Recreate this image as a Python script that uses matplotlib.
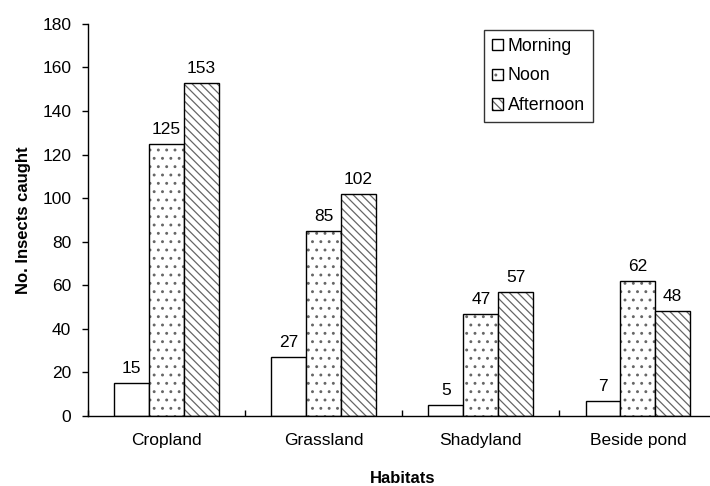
import matplotlib
matplotlib.use("Agg")
import matplotlib.pyplot as plt
import numpy as np

plt.rcParams['font.family'] = ['Liberation Sans', 'DejaVu Sans']
plt.rcParams['hatch.linewidth'] = 0.9

habitats = ['Cropland', 'Grassland', 'Shadyland', 'Beside pond']
morning = [15, 27, 5, 7]
noon = [125, 85, 47, 62]
afternoon = [153, 102, 57, 48]
series = [('Morning', morning, ''), ('Noon', noon, '..'), ('Afternoon', afternoon, '\\\\\\\\')]

fig = plt.figure(figsize=(7.1, 4.86), dpi=100)
ax = fig.add_axes([0.124, 0.144, 0.885, 0.807])

x = np.arange(len(habitats)) + 0.5
w = 0.222
for i, (name, vals, hatch) in enumerate(series):
    pos = x + (i - 1) * w
    bars = ax.bar(pos, vals, w, color='white', edgecolor='black', linewidth=1.0,
                  hatch=hatch, label=name)
    for b in bars:
        b._hatch_color = (0.4, 0.4, 0.4, 1.0)
    for px, v in zip(pos, vals):
        ax.annotate(str(v), (px, v), xytext=(0, 5), textcoords='offset points',
                    ha='center', va='bottom', fontsize=12.5)

ax.set_xlim(0, 4)
ax.set_ylim(0, 180)
ax.set_yticks(range(0, 181, 20))
ax.set_xticks([0, 1, 2, 3, 4], labels=[''] * 5)
ax.set_xticks(x, labels=habitats, minor=True)
ax.tick_params(axis='x', which='major', direction='in', length=4, width=1)
ax.tick_params(axis='x', which='minor', length=0, pad=12, labelsize=12.5)
ax.tick_params(axis='y', direction='out', length=4, width=1, labelsize=12.5, pad=8)

for s in ['top', 'right']:
    ax.spines[s].set_visible(False)
for s in ['left', 'bottom']:
    ax.spines[s].set_linewidth(1.0)

ax.set_xlabel('Habitats', fontsize=12, fontweight='bold', labelpad=17)
ax.set_ylabel('No. Insects caught', fontsize=12, fontweight='bold', labelpad=8)

leg = ax.legend(loc='upper left', bbox_to_anchor=(0.63, 0.985), fontsize=12.8,
                frameon=True, fancybox=False, edgecolor='black', handlelength=0.6,
                handleheight=0.6, handletextpad=0.3, labelspacing=0.72,
                borderpad=0.45, borderaxespad=0)
leg.get_frame().set_linewidth(1.0)

fig.savefig('out.png', dpi=100)
